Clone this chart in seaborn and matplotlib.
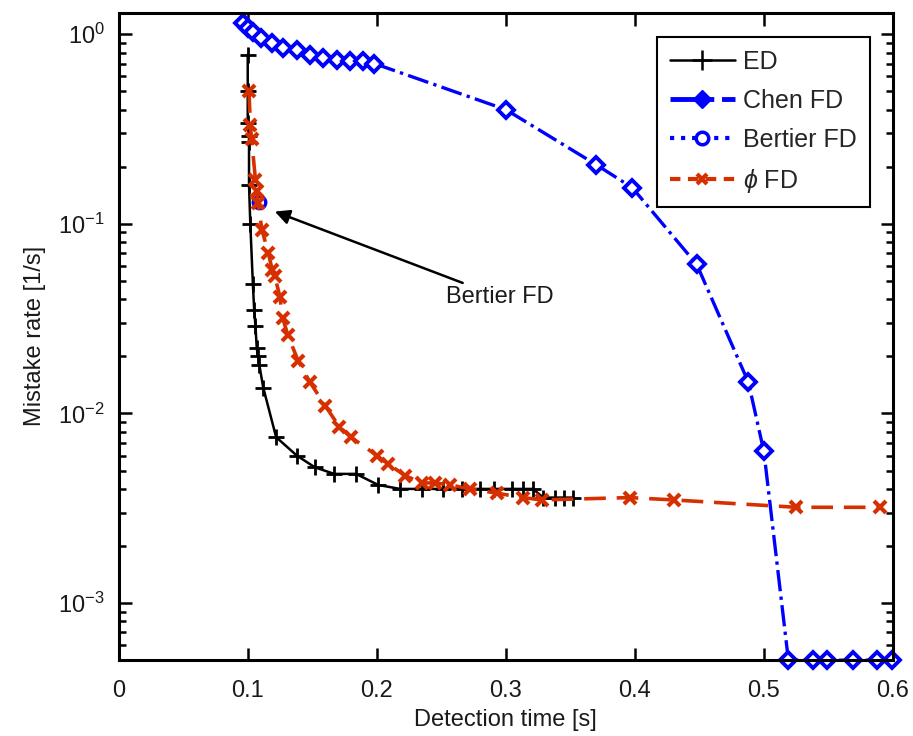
import matplotlib
matplotlib.use("Agg")
import matplotlib.pyplot as plt
from matplotlib.lines import Line2D
from matplotlib.ticker import LogLocator, FixedLocator
import seaborn as sns
import numpy as np

# ---------------- data ----------------
ed_x = [0.100, 0.100, 0.100, 0.101, 0.101, 0.101, 0.102, 0.104, 0.105, 0.106, 0.107,
        0.108, 0.109, 0.112, 0.122, 0.138, 0.152, 0.167, 0.184, 0.201, 0.218, 0.235,
        0.251, 0.266, 0.280, 0.291, 0.305, 0.313, 0.321, 0.329, 0.338, 0.345, 0.352]
ed_y = [0.78, 0.50, 0.34, 0.29, 0.27, 0.16, 0.10, 0.048, 0.035, 0.029, 0.022,
        0.020, 0.018, 0.0137, 0.0075, 0.0060, 0.0052, 0.0048, 0.0048, 0.0042, 0.0040, 0.0040,
        0.0040, 0.0040, 0.0040, 0.0040, 0.0040, 0.0040, 0.0040, 0.0036, 0.0036, 0.0036, 0.0036]

chen_x = [0.096, 0.100, 0.104, 0.110, 0.119, 0.127, 0.138, 0.148, 0.158, 0.169, 0.179,
          0.189, 0.198, 0.300, 0.370, 0.398, 0.448, 0.488, 0.500, 0.519, 0.538, 0.549,
          0.569, 0.588, 0.599]
chen_y = [1.14, 1.08, 1.02, 0.95, 0.90, 0.85, 0.82, 0.78, 0.75, 0.73, 0.72,
          0.72, 0.70, 0.40, 0.205, 0.155, 0.061, 0.0146, 0.0063, 0.0005, 0.0005, 0.0005,
          0.0005, 0.0005, 0.0005]

bertier_x = [0.109]
bertier_y = [0.13]

phi_x = [0.101, 0.102, 0.103, 0.106, 0.107, 0.108, 0.111, 0.116, 0.119, 0.121, 0.125,
         0.127, 0.131, 0.139, 0.148, 0.160, 0.171, 0.180, 0.200, 0.209, 0.222, 0.235,
         0.245, 0.257, 0.272, 0.293, 0.313, 0.328, 0.396, 0.430, 0.525, 0.590]
phi_y = [0.50, 0.33, 0.28, 0.17, 0.148, 0.128, 0.093, 0.070, 0.057, 0.053, 0.041,
         0.032, 0.026, 0.019, 0.0147, 0.011, 0.0085, 0.0075, 0.0060, 0.0054, 0.0047, 0.0043,
         0.0043, 0.0042, 0.0040, 0.0038, 0.0036, 0.0035, 0.0036, 0.0035, 0.0032, 0.0032]

series_labels = ["ED", "Chen FD", "Bertier FD", r"$\phi$ FD"]
x_ticks = [0, 0.1, 0.2, 0.3, 0.4, 0.5, 0.6]
x_ticklabels = ["0", "0.1", "0.2", "0.3", "0.4", "0.5", "0.6"]

BLUE = "#0000FF"
RED = "#D63000"
TXT = "#1a1a1a"

# ---------------- plot ----------------
sns.set_style("ticks")
plt.rcParams["font.family"] = ["Liberation Sans", "DejaVu Sans"]
plt.rcParams["mathtext.fontset"] = "custom"
plt.rcParams["mathtext.rm"] = "Liberation Sans"
plt.rcParams["mathtext.it"] = "Liberation Sans:italic"

fig = plt.figure(figsize=(9.13, 7.36), dpi=100)
ax = fig.add_axes([0.130, 0.103, 0.848, 0.880])

sns.lineplot(x=ed_x, y=ed_y, ax=ax, sort=False, estimator=None, color="black",
             linewidth=1.8, marker="+", markersize=12, markeredgewidth=2.0,
             markeredgecolor="black", clip_on=False)
sns.lineplot(x=chen_x, y=chen_y, ax=ax, sort=False, estimator=None, color=BLUE,
             linewidth=2.4, linestyle="-.", marker="D", markersize=8,
             markerfacecolor="white", markeredgecolor=BLUE, markeredgewidth=2.8,
             clip_on=False)
sns.lineplot(x=bertier_x, y=bertier_y, ax=ax, sort=False, estimator=None, color=BLUE,
             linewidth=2.2, linestyle=":", marker="o", markersize=9,
             markerfacecolor="white", markeredgecolor=BLUE, markeredgewidth=2.4)
sns.lineplot(x=phi_x, y=phi_y, ax=ax, sort=False, estimator=None, color=RED,
             linewidth=2.6, linestyle=(0, (6, 3)), marker="x", markersize=8,
             markeredgewidth=3.0, markeredgecolor=RED)

ax.set_yscale("log")
ax.set_xlim(0, 0.6)
ax.set_ylim(5e-4, 1.3)
ax.xaxis.set_major_locator(FixedLocator(x_ticks))
ax.set_xticklabels(x_ticklabels)
ax.yaxis.set_major_locator(LogLocator(base=10))
ax.yaxis.set_minor_locator(LogLocator(base=10, subs=np.arange(2, 10)))

ax.tick_params(which="both", direction="in", top=True, right=True, labelsize=17,
               width=1.8, color="black", labelcolor=TXT)
ax.tick_params(which="major", length=9)
ax.tick_params(which="minor", length=5)
ax.tick_params(axis="x", which="major", pad=14)
ax.tick_params(axis="y", which="major", pad=10)
for s in ax.spines.values():
    s.set_linewidth(2.2)
    s.set_color("black")

ax.set_xlabel("Detection time [s]", fontsize=17, color=TXT, labelpad=5)
ax.set_ylabel("Mistake rate [1/s]", fontsize=17, color=TXT, labelpad=9)

ax.annotate("Bertier FD", xy=(0.121, 0.116), xytext=(0.254, 0.041),
            fontsize=17, color=TXT, va="center", ha="left",
            arrowprops=dict(arrowstyle="-|>", color="black", lw=1.8,
                            mutation_scale=22, shrinkA=0, shrinkB=0))

handles = [
    Line2D([], [], color="black", linewidth=1.8, marker="+", markersize=14, markeredgewidth=1.8),
    Line2D([], [], color=BLUE, linewidth=3.5, linestyle="-.", marker="D", markersize=9,
           markerfacecolor=BLUE, markeredgecolor=BLUE),
    Line2D([], [], color=BLUE, linewidth=3.0, linestyle=":", marker="o", markersize=9,
           markerfacecolor="white", markeredgecolor=BLUE, markeredgewidth=2.5),
    Line2D([], [], color=RED, linewidth=3.0, linestyle=(0, (2.5, 1.8)), marker="x", markersize=7,
           markeredgewidth=3.0),
]
leg = ax.legend(handles, series_labels, loc="upper right", bbox_to_anchor=(0.970, 0.962),
                borderaxespad=0, fontsize=18, frameon=True, fancybox=False, framealpha=1,
                edgecolor="black", handlelength=2.6, borderpad=0.5, labelspacing=0.6,
                handletextpad=0.35)
leg.get_frame().set_linewidth(1.5)

fig.savefig("out.png", dpi=100)
